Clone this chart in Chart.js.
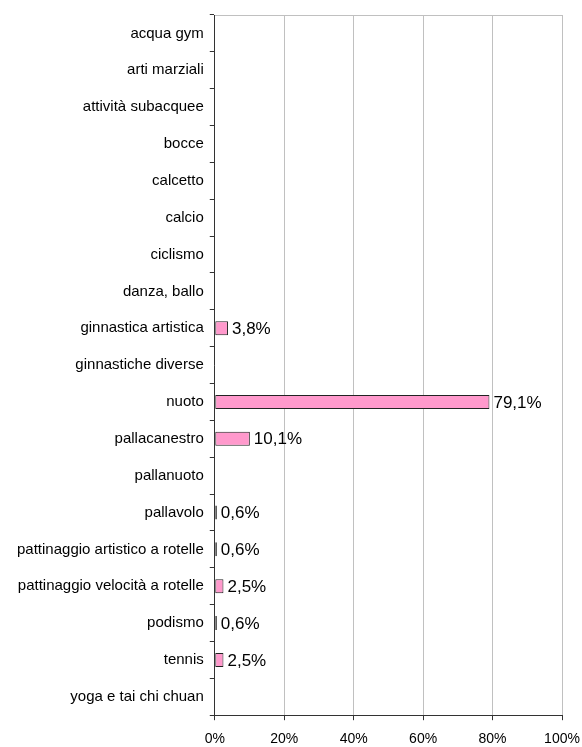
<!DOCTYPE html>
<html>
<head>
<meta charset="utf-8">
<script src="https://cdn.jsdelivr.net/npm/chart.js@4.4.1/dist/chart.umd.min.js"></script>
<style>
  html, body { margin: 0; padding: 0; background: #fff; }
  #wrap { width: 582px; height: 747px; position: relative; }
</style>
</head>
<body>
<div id="wrap"><canvas id="chart"></canvas></div>
<script>
const categories = [
    "acqua gym", "arti marziali", "attività subacquee", "bocce", "calcetto",
    "calcio", "ciclismo", "danza, ballo", "ginnastica artistica", "ginnastiche diverse",
    "nuoto", "pallacanestro", "pallanuoto", "pallavolo",
    "pattinaggio artistico a rotelle", "pattinaggio velocità a rotelle",
    "podismo", "tennis", "yoga e tai chi chuan"
];
const percentages = [0, 0, 0, 0, 0, 0, 0, 0, 3.8, 0, 79.1, 10.1, 0, 0.6, 0.6, 2.5, 0.6, 2.5, 0];
const xTicks = [0, 20, 40, 60, 80, 100];

const FONT = "'Liberation Sans', Arial, sans-serif";

// value labels to the right of each non-zero bar
const valueLabels = {
    id: "valueLabels",
    afterDatasetsDraw(c) {
        const ctx = c.ctx;
        const meta = c.getDatasetMeta(0);
        ctx.save();
        ctx.font = "17px " + FONT;
        ctx.fillStyle = "#000";
        ctx.textBaseline = "middle";
        ctx.textAlign = "left";
        meta.data.forEach((bar, i) => {
            const v = percentages[i];
            if (!v) return;
            ctx.fillText(v.toFixed(1).replace(".", ",") + "%", bar.x + 4, bar.y + 1);
        });
        ctx.restore();
    }
};

new Chart(document.getElementById("chart"), {
    type: "bar",
    data: {
        labels: categories,
        datasets: [{
            data: percentages,
            backgroundColor: "#ff99cc",
            borderColor: "#222",
            borderWidth: 1,
            borderSkipped: false,
            barPercentage: 0.38,
            categoryPercentage: 1
        }]
    },
    options: {
        indexAxis: "y",
        responsive: true,
        maintainAspectRatio: false,
        animation: false,
        layout: { padding: { left: 11, right: 0, top: 12, bottom: -12 } },
        plugins: { legend: { display: false }, tooltip: { enabled: false } },
        scales: {
            x: {
                min: 0,
                max: 100,
                afterBuildTicks(axis) { axis.ticks = xTicks.map(v => ({ value: v })); },
                afterFit(axis) { axis.paddingRight = 20; },
                ticks: {
                    callback: v => v + "%",
                    color: "#000",
                    font: { family: FONT, size: 14 },
                    padding: 11,
                    maxRotation: 0
                },
                grid: { color: "#c0c0c0", tickColor: "#333", tickLength: 5, lineWidth: 1 },
                border: { color: "#333", width: 1 }
            },
            xTop: {
                position: "top",
                min: 0,
                max: 100,
                ticks: { display: false },
                grid: { drawOnChartArea: false, drawTicks: false },
                border: { color: "#c0c0c0", width: 1 }
            },
            y: {
                ticks: {
                    color: "#000",
                    font: { family: FONT, size: 15 },
                    padding: 6,
                    autoSkip: false
                },
                grid: { offset: true, drawOnChartArea: false, tickColor: "#333", tickLength: 5 },
                border: { color: "#333", width: 1 }
            }
        }
    },
    plugins: [valueLabels]
});
</script>
</body>
</html>
